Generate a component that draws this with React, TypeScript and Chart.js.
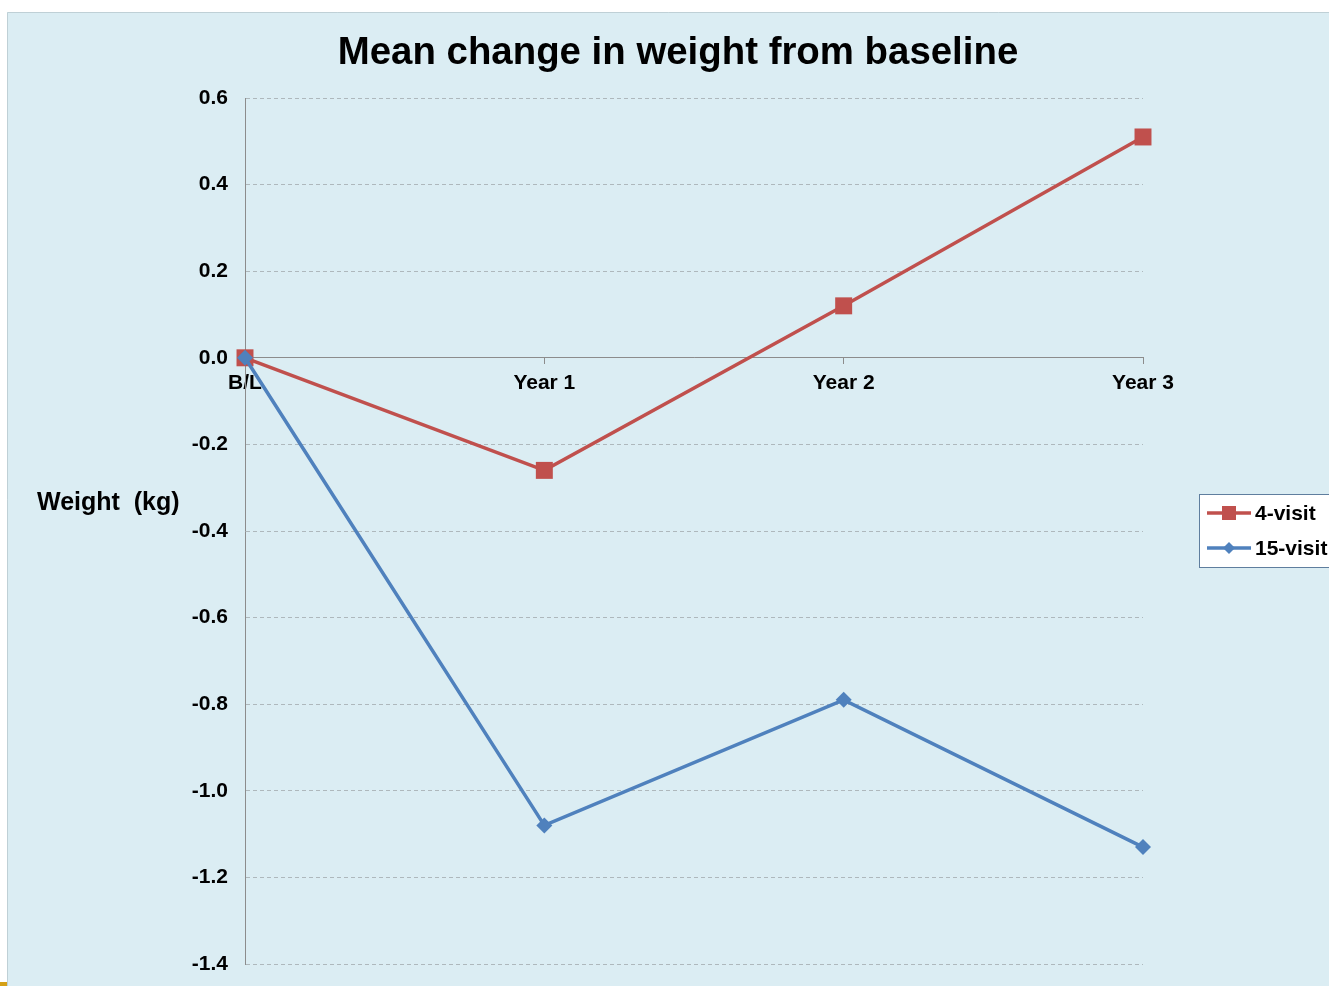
import React, { useEffect, useRef } from "react";
import { Chart, registerables } from "chart.js";

Chart.register(...registerables);

const categories = ["B/L", "Year 1", "Year 2", "Year 3"];
const fourVisit = [0, -0.26, 0.12, 0.51];
const fifteenVisit = [0, -1.08, -0.79, -1.13];
const seriesNames = ["4-visit", "15-visit"];
const yMin = -1.4;
const yMax = 0.6;
const yStep = 0.2;
const titleText = "Mean change in weight from baseline";
const yTitleText = "Weight  (kg)";

const FONT = '"Liberation Sans", Arial, sans-serif';
const RED = "#C0504D";
const BLUE = "#4F81BD";

const decorPlugin = {
  id: "decor",
  beforeDraw(chart: any) {
    const ctx = chart.ctx;
    ctx.save();
    ctx.fillStyle = "#ffffff";
    ctx.fillRect(0, 0, chart.width, chart.height);
    ctx.fillStyle = "#DBEDF3";
    ctx.fillRect(7, 12, chart.width - 7, chart.height - 12);
    ctx.strokeStyle = "#BFD0D6";
    ctx.lineWidth = 1;
    ctx.beginPath();
    ctx.moveTo(7.5, chart.height);
    ctx.lineTo(7.5, 12.5);
    ctx.lineTo(chart.width, 12.5);
    ctx.stroke();
    ctx.fillStyle = "#D4A017";
    ctx.fillRect(0, 982, 7, 4);
    ctx.restore();
  },
  afterDraw(chart: any) {
    const ctx = chart.ctx;
    ctx.save();
    // title
    ctx.fillStyle = "#000000";
    ctx.font = `bold 38.4px ${FONT}`;
    ctx.textAlign = "center";
    ctx.textBaseline = "alphabetic";
    ctx.fillText(titleText, 678, 64);
    // y title
    ctx.font = `bold 25px ${FONT}`;
    ctx.textAlign = "left";
    ctx.fillText(yTitleText, 37, 510);
    // legend
    const lx = 1199.5, ly = 494.5, lw = 200, lh = 73;
    ctx.fillStyle = "#ffffff";
    ctx.fillRect(lx, ly, lw, lh);
    ctx.strokeStyle = "#5F7E9E";
    ctx.lineWidth = 1;
    ctx.strokeRect(lx, ly, lw, lh);
    const rows = [513, 548];
    chart.data.datasets.forEach((ds: any, i: number) => {
      const y = rows[i];
      ctx.strokeStyle = ds.borderColor;
      ctx.lineWidth = 3.5;
      ctx.beginPath();
      ctx.moveTo(1207, y);
      ctx.lineTo(1251, y);
      ctx.stroke();
      ctx.fillStyle = ds.pointBackgroundColor;
      ctx.beginPath();
      if (ds.pointStyle === "rect") {
        ctx.rect(1229 - 7, y - 7, 14, 14);
      } else {
        ctx.moveTo(1229 - 6, y);
        ctx.lineTo(1229, y - 6);
        ctx.lineTo(1229 + 6, y);
        ctx.lineTo(1229, y + 6);
        ctx.closePath();
      }
      ctx.fill();
      ctx.fillStyle = "#000000";
      ctx.font = `bold 21px ${FONT}`;
      ctx.textAlign = "left";
      ctx.textBaseline = "middle";
      ctx.fillText(ds.label, 1255, y + 1);
    });
    ctx.restore();
  },
};

export default function App() {
  const ref = useRef<HTMLCanvasElement | null>(null);
  useEffect(() => {
    if (!ref.current) return;
    const chart = new Chart(ref.current, {
      type: "line",
      data: {
        labels: categories,
        datasets: [
          {
            label: seriesNames[0],
            data: fourVisit,
            borderColor: RED,
            backgroundColor: RED,
            pointBackgroundColor: RED,
            pointBorderColor: RED,
            pointStyle: "rect",
            pointRadius: 12,
            pointBorderWidth: 0,
            borderWidth: 3.5,
            tension: 0,
            order: 1,
            clip: false,
          } as any,
          {
            label: seriesNames[1],
            data: fifteenVisit,
            borderColor: BLUE,
            backgroundColor: BLUE,
            pointBackgroundColor: BLUE,
            pointBorderColor: BLUE,
            pointStyle: "rectRot",
            pointRadius: 8,
            pointBorderWidth: 0,
            borderWidth: 3.5,
            tension: 0,
            order: 0,
            clip: false,
          } as any,
        ],
      },
      options: {
        responsive: false,
        animation: false,
        layout: { padding: { left: 0, right: 186, top: 98, bottom: 22 } },
        plugins: {
          legend: { display: false },
          title: { display: false },
          tooltip: { enabled: false },
        },
        scales: {
          x: {
            type: "category",
            offset: false,
            position: { y: 0 } as any,
            afterFit(scale: any) {
              scale.height = 0;
            },
            grid: {
              drawOnChartArea: false,
              drawTicks: true,
              tickLength: 6,
              color: "#8C8C8C",
            },
            border: { display: true, color: "#8C8C8C", width: 1 },
            ticks: {
              autoSkip: false,
              maxRotation: 0,
              padding: 7,
              color: "#000000",
              font: { family: FONT, size: 21, weight: "bold" },
            },
          },
          y: {
            min: yMin,
            max: yMax,
            afterFit(scale: any) {
              scale.width = 245;
            },
            grid: {
              drawTicks: false,
              color: "#AEB8BC",
            },
            border: { display: true, color: "#8C8C8C", width: 1, dash: [4, 3] },
            ticks: {
              stepSize: yStep,
              padding: 17,
              color: "#000000",
              font: { family: FONT, size: 21, weight: "bold", lineHeight: 0.4 },
              callback: (v: any) => {
                const n = Number(v);
                return Math.abs(n) < 1e-9 ? "0.0" : n.toFixed(1);
              },
            },
          },
        },
      },
      plugins: [decorPlugin],
    });
    return () => chart.destroy();
  }, []);
  return (
    <div style={{ position: "fixed", left: 0, top: 0, width: 1329, height: 986 }}>
      <canvas ref={ref} width={1329} height={986} style={{ width: 1329, height: 986, display: "block" }} />
    </div>
  );
}
